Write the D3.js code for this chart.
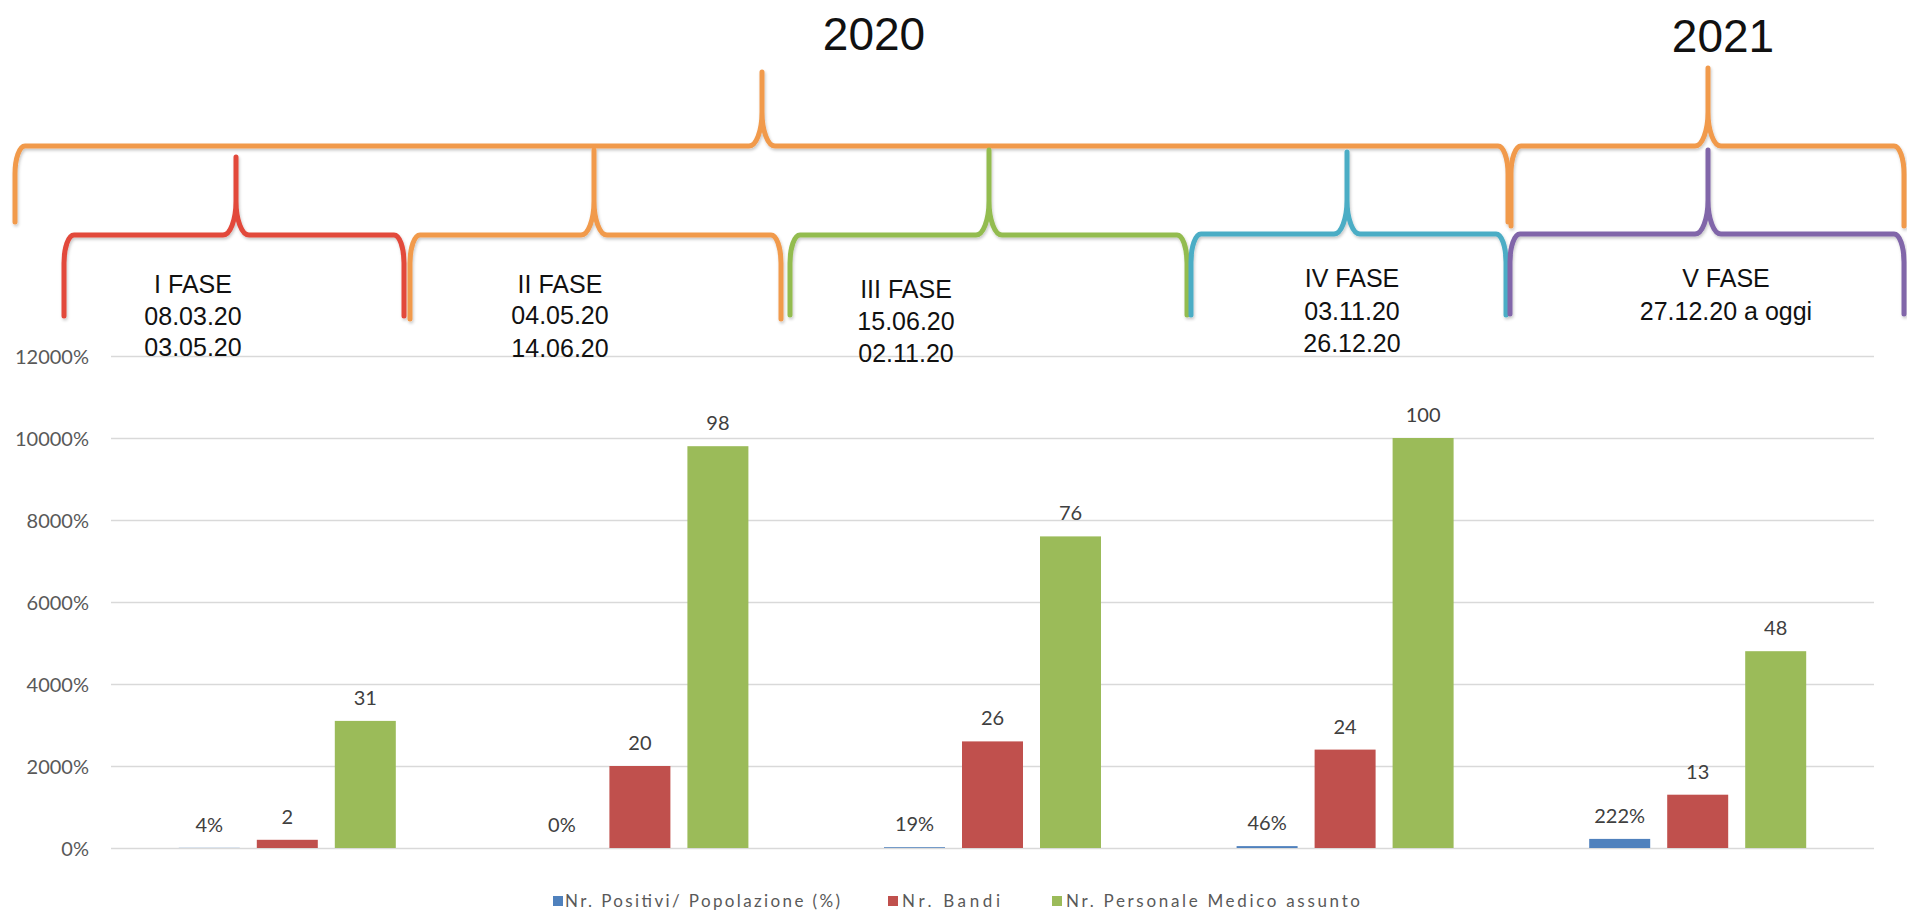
<!DOCTYPE html>
<html>
<head>
<meta charset="utf-8">
<script src="https://cdn.jsdelivr.net/npm/d3@7"></script>
<style>
  html, body { margin: 0; padding: 0; background: #fff; }
  svg { display: block; }
</style>
</head>
<body>
<svg id="chart" width="1907" height="916"></svg>
<script>
// ---------------- DATA ----------------
const categories = ["I FASE", "II FASE", "III FASE", "IV FASE", "V FASE"];
const seriesNames = ["Nr. Positivi/ Popolazione (%)", "Nr. Bandi", "Nr. Personale Medico assunto"];
// values on the percent axis (1 = 100%)
const positiviValues = [0.04, 0.00, 0.19, 0.46, 2.22];
const bandiValues = [2, 20, 26, 24, 13];
const personaleValues = [31, 98, 76, 100, 48];
const yTicks = [0, 20, 40, 60, 80, 100, 120];
const years = ["2020", "2021"];
const phaseLabels = [
  ["I FASE", "08.03.20", "03.05.20"],
  ["II FASE", "04.05.20", "14.06.20"],
  ["III FASE", "15.06.20", "02.11.20"],
  ["IV FASE", "03.11.20", "26.12.20"],
  ["V FASE", "27.12.20 a oggi"]
];

// ---------------- STYLE / LAYOUT ----------------
const seriesColors = ["#4F81BD", "#C0504D", "#9BBB59"];
const seriesFormats = [d3.format(".0%"), d3.format("d"), d3.format("d")];
const plot = { left: 111, right: 1874, top: 356, bottom: 848 };

const svg = d3.select("#chart");

const defs = svg.append("defs");
const f = defs.append("filter").attr("id", "shadow").attr("x", "-5%").attr("y", "-20%").attr("width", "110%").attr("height", "160%");
f.append("feDropShadow").attr("dx", 1).attr("dy", 2).attr("stdDeviation", 1.4)
  .attr("flood-color", "#000").attr("flood-opacity", 0.22);

// ---------------- SCALES ----------------
const x = d3.scaleBand().domain(categories).range([plot.left, plot.right]).paddingInner(0).paddingOuter(0);
const groupWidth = 217;
const xs = d3.scaleBand().domain(seriesNames).range([0, groupWidth]).paddingInner(0.218).paddingOuter(0);
const groupOffset = (x.bandwidth() - groupWidth) / 2;
const y = d3.scaleLinear().domain([0, 120]).range([plot.bottom, plot.top]);

// ---------------- GRID + Y AXIS ----------------
const yAxis = d3.axisLeft(y).tickValues(yTicks).tickFormat(d3.format(".0%"))
  .tickSize(-(plot.right - plot.left)).tickPadding(22);
const gy = svg.append("g").attr("transform", `translate(${plot.left},0)`).call(yAxis);
gy.select(".domain").remove();
gy.selectAll(".tick line").attr("stroke", "#D9D9D9").attr("stroke-width", 1.5);
gy.selectAll(".tick text").attr("fill", "#595959").attr("font-family", "Lato, 'Open Sans', sans-serif")
  .attr("font-size", 20).attr("dy", "0.35em");

// ---------------- BARS ----------------
const seriesData = [positiviValues, bandiValues, personaleValues];
const rows = [];
seriesData.forEach((vals, si) => vals.forEach((v, ci) => rows.push({ s: seriesNames[si], si, c: categories[ci], v })));

svg.append("g").selectAll("rect").data(rows).join("rect")
  .attr("x", d => x(d.c) + groupOffset + xs(d.s))
  .attr("width", xs.bandwidth())
  .attr("y", d => y(d.v))
  .attr("height", d => y(0) - y(d.v))
  .attr("fill", d => seriesColors[d.si]);

svg.append("g").selectAll("text").data(rows).join("text")
  .attr("x", d => x(d.c) + groupOffset + xs(d.s) + xs.bandwidth() / 2)
  .attr("y", d => y(d.v) - 16)
  .attr("text-anchor", "middle")
  .attr("font-family", "Lato, 'Open Sans', sans-serif")
  .attr("font-size", 20)
  .attr("fill", "#404040")
  .text(d => seriesFormats[d.si](d.v));

// ---------------- LEGEND ----------------
const legendItems = [
  { sq: 553, tx: 565, w: 275 },
  { sq: 888, tx: 902, w: 98 },
  { sq: 1052, tx: 1066, w: 294 }
];
const lg = svg.append("g");
seriesNames.forEach((name, i) => {
  const it = legendItems[i];
  lg.append("rect").attr("x", it.sq).attr("y", 896).attr("width", 10).attr("height", 10).attr("fill", seriesColors[i]);
  lg.append("text").attr("x", it.tx).attr("y", 907)
    .attr("font-family", "Lato, 'Open Sans', sans-serif").attr("font-size", 17).attr("fill", "#595959")
    .attr("textLength", it.w).attr("lengthAdjust", "spacing").text(name);
});

// ---------------- BRACES (timeline annotation) ----------------
function bracePath(b) {
  const k = 0.448;
  const rx = 10, ry = 28, hx = 13, hy = 34;
  const { x0, x1, tip, yLine, yEnd, tipY } = b;
  return [
    `M${x0},${yEnd}`,
    `L${x0},${yLine + ry}`,
    `C${x0},${yLine + ry * k} ${x0 + rx * k},${yLine} ${x0 + rx},${yLine}`,
    `L${tip - hx},${yLine}`,
    `C${tip - hx * k},${yLine} ${tip},${yLine - hy * k} ${tip},${yLine - hy}`,
    `L${tip},${tipY}`,
    `L${tip},${yLine - hy}`,
    `C${tip},${yLine - hy * k} ${tip + hx * k},${yLine} ${tip + hx},${yLine}`,
    `L${x1 - rx},${yLine}`,
    `C${x1 - rx * k},${yLine} ${x1},${yLine + ry * k} ${x1},${yLine + ry}`,
    `L${x1},${yEnd}`
  ].join(" ");
}
const orange = "#F19A4C";
const yearBraces = [
  { x0: 15, x1: 1508, tip: 762, yLine: 146, yEnd: 222, tipY: 72, color: orange },
  { x0: 1511, x1: 1904, tip: 1708, yLine: 146, yEnd: 226, tipY: 68, color: orange }
];
const phaseBraces = [
  { x0: 64, x1: 404, tip: 236, yLine: 235, yEnd: 316, tipY: 157, color: "#E2483B" },
  { x0: 410, x1: 781, tip: 594, yLine: 235, yEnd: 319, tipY: 150, color: orange },
  { x0: 790, x1: 1187, tip: 989, yLine: 235, yEnd: 315, tipY: 150, color: "#93BC50" },
  { x0: 1191, x1: 1506, tip: 1347, yLine: 234, yEnd: 315, tipY: 152, color: "#4BADC5" },
  { x0: 1510, x1: 1904, tip: 1708, yLine: 234, yEnd: 314, tipY: 150, color: "#8166A9" }
];
const bg = svg.append("g").attr("filter", "url(#shadow)");
bg.selectAll("path.year").data(yearBraces).join("path").attr("class", "year")
  .attr("d", bracePath).attr("fill", "none").attr("stroke", d => d.color)
  .attr("stroke-width", 5).attr("stroke-linejoin", "round").attr("stroke-linecap", "round");
bg.selectAll("path.phase").data(phaseBraces).join("path").attr("class", "phase")
  .attr("d", bracePath).attr("fill", "none").attr("stroke", d => d.color)
  .attr("stroke-width", 5).attr("stroke-linejoin", "round").attr("stroke-linecap", "round");

// year titles
const yearPos = [{ x: 874, y: 50 }, { x: 1723, y: 52 }];
svg.append("g").selectAll("text").data(years).join("text")
  .attr("x", (d, i) => yearPos[i].x).attr("y", (d, i) => yearPos[i].y)
  .attr("text-anchor", "middle").attr("font-family", "'Liberation Sans', Arial, sans-serif")
  .attr("font-size", 46).attr("fill", "#111").text(d => d);

// phase labels
const phasePos = [
  { x: 193, ys: [293, 325, 356] },
  { x: 560, ys: [293, 324, 357] },
  { x: 906, ys: [298, 330, 362] },
  { x: 1352, ys: [287, 320, 352] },
  { x: 1726, ys: [287, 320] }
];
const pg = svg.append("g");
phaseLabels.forEach((lines, i) => {
  lines.forEach((t, j) => {
    pg.append("text").attr("x", phasePos[i].x).attr("y", phasePos[i].ys[j])
      .attr("text-anchor", "middle").attr("font-family", "'Liberation Sans', Arial, sans-serif")
      .attr("font-size", 25).attr("fill", "#111").text(t);
  });
});
</script>
</body>
</html>
